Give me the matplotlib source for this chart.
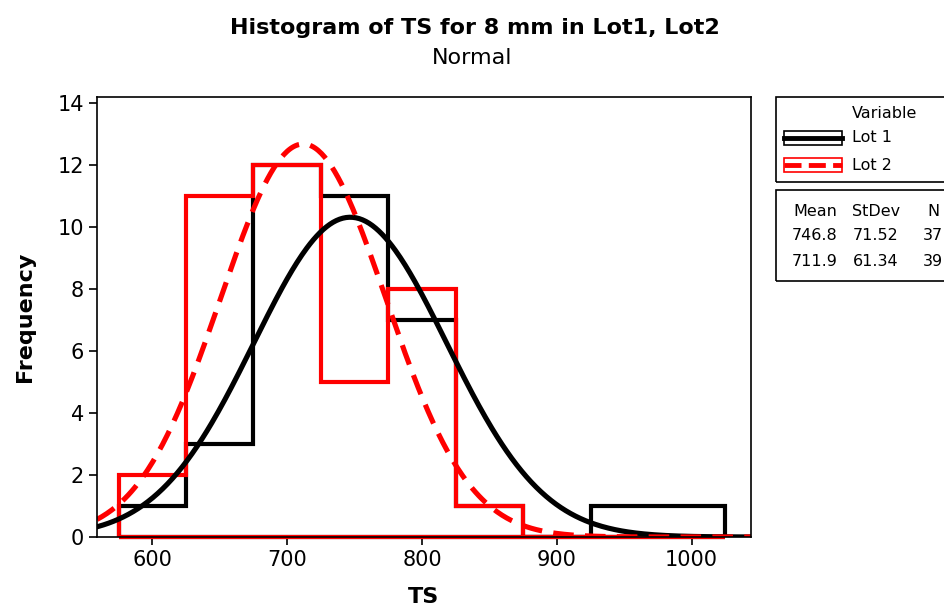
"""
Histogram of TS for 8 mm in Lot1, Lot2 with fitted normal curves.
"""

import numpy as np
import matplotlib.pyplot as plt
from matplotlib.patches import Rectangle
from matplotlib.lines import Line2D

bin_edges = [575, 625, 675, 725, 775, 825, 875, 925, 975, 1025]
lot1_counts = [1, 3, 12, 11, 7, 1, 0, 1, 1]
lot2_counts = [2, 11, 12, 5, 8, 1, 0, 0, 0]

lot_names = ["Lot 1", "Lot 2"]
means = [746.8, 711.9]
stdevs = [71.52, 61.34]
sizes = [37, 39]
x_ticks = [600, 700, 800, 900, 1000]
y_ticks = [0, 2, 4, 6, 8, 10, 12, 14]

W, H = 944, 609


def px(x, y):
    # pixel position (from top-left) to figure fraction
    return x / W, 1 - y / H


def main():
    plt.rcParams['font.family'] = ['DejaVu Sans']
    fig = plt.figure(figsize=(W / 100, H / 100), dpi=100)
    l, b = px(97, 537)
    r, t = px(751, 97)
    ax = fig.add_axes([l, b, r - l, t - b])

    for counts, c in [(lot1_counts, "black"), (lot2_counts, "red")]:
        ax.stairs(counts, bin_edges, baseline=0, color=c, lw=3)
        ax.plot([bin_edges[0], bin_edges[-1]], [0, 0], color=c, lw=3,
                clip_on=False, solid_capstyle="butt")

    binw = bin_edges[1] - bin_edges[0]
    xs = np.linspace(559, 1044, 400)
    for m, s, n, c, ls in zip(means, stdevs, sizes, ["black", "red"],
                              ["-", (0, (4, 2.2))]):
        ys = n * binw / (s * np.sqrt(2 * np.pi)) * np.exp(-0.5 * ((xs - m) / s) ** 2)
        ax.plot(xs, ys, color=c, lw=3.7, ls=ls)

    ax.set_xlim(559, 1044)
    ax.set_ylim(0, 14.2)
    ax.set_xticks(x_ticks)
    ax.set_yticks(y_ticks)
    ax.tick_params(labelsize=15, length=6, width=1.2, direction="out")
    for sp in ax.spines.values():
        sp.set_linewidth(1.2)
    ax.set_xlabel("TS", fontsize=16, fontweight="bold", labelpad=12)
    ax.set_ylabel("Frequency", fontsize=16, fontweight="bold", labelpad=16)

    fig.text(*px(475, 28), "Histogram of TS for 8 mm in Lot1, Lot2",
             ha="center", va="center", fontsize=16, fontweight="bold")
    fig.text(*px(472, 58), "Normal", ha="center", va="center", fontsize=16)

    # legend boxes
    for y0, y1 in [(97, 182), (190, 281)]:
        x0, yb = px(776, y1)
        fig.add_artist(Rectangle((x0, yb), (960 - 776) / W, (y1 - y0) / H,
                                 transform=fig.transFigure, fill=False,
                                 lw=1.2, ec="black"))
    fig.text(*px(885, 114), "Variable", ha="center", va="center", fontsize=11.5)
    for i, (name, c, ls) in enumerate(zip(lot_names, ["black", "red"],
                                          ["-", (0, (3.5, 1.5))])):
        yc = 138 + i * 27
        bx, by = px(784, yc + 7)
        fig.add_artist(Rectangle((bx, by), 58 / W, 14 / H,
                                 transform=fig.transFigure, fill=False,
                                 lw=1.2, ec=c))
        xa, ya = px(784, yc)
        xb, _ = px(842, yc)
        fig.add_artist(Line2D([xa, xb], [ya, ya], transform=fig.transFigure,
                              color=c, lw=3.5, ls=ls))
        fig.text(*px(852, yc), name, ha="left", va="center", fontsize=11.5)

    fig.text(*px(815, 212), "Mean", ha="center", va="center", fontsize=11.5)
    fig.text(*px(876, 212), "StDev", ha="center", va="center", fontsize=11.5)
    fig.text(*px(933, 212), "N", ha="center", va="center", fontsize=11.5)
    for i in range(2):
        yc = 236 + i * 26
        fig.text(*px(815, yc), f"{means[i]:.1f}", ha="center", va="center", fontsize=11.5)
        fig.text(*px(876, yc), f"{stdevs[i]:.2f}", ha="center", va="center", fontsize=11.5)
        fig.text(*px(933, yc), f"{sizes[i]}", ha="center", va="center", fontsize=11.5)

    fig.savefig("out.png", dpi=100)


if __name__ == "__main__":
    main()
